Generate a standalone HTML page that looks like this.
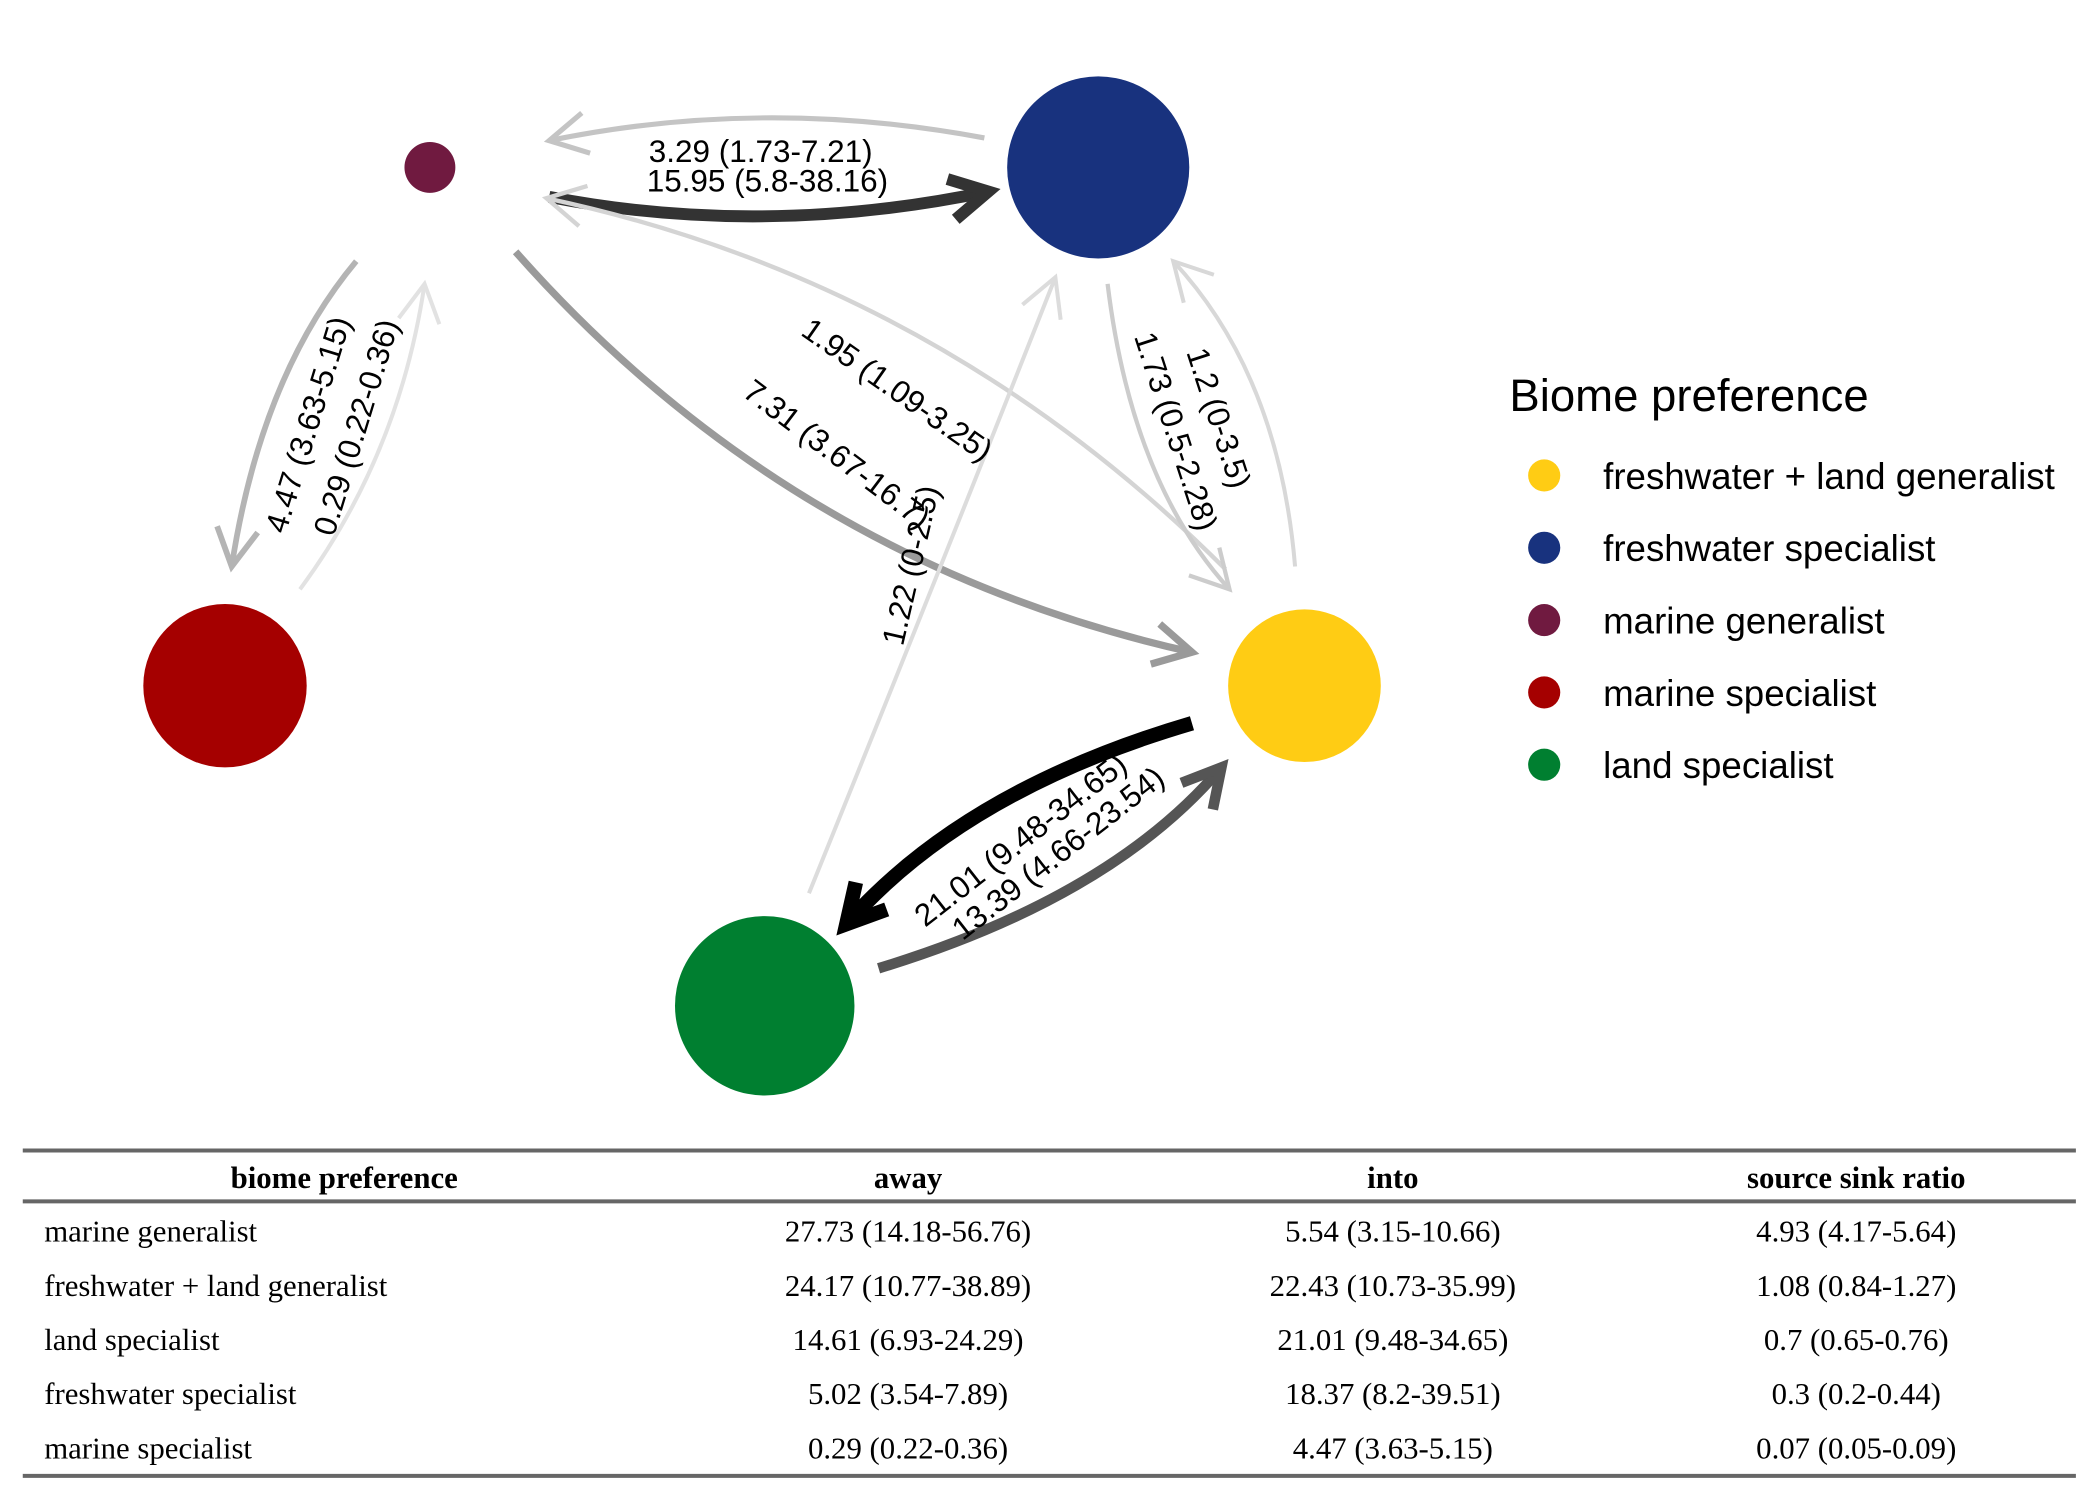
<!DOCTYPE html>
<html><head><meta charset="utf-8"><style>
html,body{margin:0;padding:0;background:#fff;}
svg{display:block;}
</style></head><body>
<svg id="chart" width="2100" height="1500" viewBox="0 0 1568 1120" preserveAspectRatio="none" xmlns="http://www.w3.org/2000/svg">
<g id="edges"></g>
<g id="nodes"></g>
<g id="labels" font-family="Liberation Sans, sans-serif" font-size="23.5" fill="#000"></g>
<g id="legend" font-family="Liberation Sans, sans-serif">
<text x="1127" y="307" font-size="34">Biome preference</text>
</g>
<g id="table" font-family="Liberation Serif, serif" font-size="23"></g>
</svg>
<script>
const NS='http://www.w3.org/2000/svg';
// nodes
const nodeNames=['marine generalist','freshwater specialist','marine specialist','freshwater + land generalist','land specialist'];
const nodeColors=['#701a40','#18327e','#a50000','#ffcc14','#007f30'];
const nodeX=[321,820,168,974,571];
const nodeY=[125,125,512,512,751];
const nodeR=[19,68,61,57,67];
// edges: start point, end point, control point, stroke
const edgeLabels=['3.29 (1.73-7.21)','15.95 (5.8-38.16)','1.95 (1.09-3.25)','7.31 (3.67-16.7)','4.47 (3.63-5.15)','0.29 (0.22-0.36)','1.22 (0-2.5)','1.73 (0.5-2.28)','1.2 (0-3.5)','21.01 (9.48-34.65)','13.39 (4.66-23.54)'];
const edgeValues=[3.29,15.95,1.95,7.31,4.47,0.29,1.22,1.73,1.2,21.01,13.39];
const edgeGeom=[
 [735,103,410,105,570,72],
 [410,147,738,143,570,178],
 [915,425,408,148,700,210],
 [385,188,890,487,590,420],
 [266,195,173,423,195,280],
 [224,440,317,212,298,340],
 [604,667,788,207,700,430],
 [827,212,918,440,845,360],
 [967,423,876,195,955,280],
 [890,540,632,690,720,590],
 [656,723,912,573,830,670]];
const edgeColors=['#c4c4c4','#333333','#d4d4d4','#9a9a9a','#b4b4b4','#e2e2e2','#dcdcdc','#cccccc','#d8d8d8','#000000','#555555'];
const labelPos=[[568,121,0],[573,143,0],[670,299,35],[625,347,37],[230,325,-73],[266,327,-73],[680,430,-77],[878,330,72],[910,320,72],[762,635,-38],[790,645,-38]];
function w(v){return 2.5+v*0.4;}
const eg=document.getElementById('edges');
edgeValues.forEach((v,i)=>{
 const [x0,y0,x1,y1,cx,cy]=edgeGeom[i];
 const sw=Math.max(3,Math.min(11,w(v)));
 const p=document.createElementNS(NS,'path');
 p.setAttribute('d',`M${x0},${y0} Q${cx},${cy} ${x1},${y1}`);
 p.setAttribute('fill','none');p.setAttribute('stroke',edgeColors[i]);p.setAttribute('stroke-width',sw);
 
 
 eg.appendChild(p);
 const a=Math.atan2(y1-cy,x1-cx),L=32,s=0.5;
 const h=document.createElementNS(NS,'path');
 h.setAttribute('d',`M${x1-L*Math.cos(a-s)},${y1-L*Math.sin(a-s)} L${x1},${y1} L${x1-L*Math.cos(a+s)},${y1-L*Math.sin(a+s)}`);
 h.setAttribute('fill','none');h.setAttribute('stroke',edgeColors[i]);h.setAttribute('stroke-width',sw);
 
 
 eg.appendChild(h);
});
const ng=document.getElementById('nodes');
nodeNames.forEach((n,i)=>{
 const c=document.createElementNS(NS,'circle');
 c.setAttribute('cx',nodeX[i]);c.setAttribute('cy',nodeY[i]);c.setAttribute('r',nodeR[i]);c.setAttribute('fill',nodeColors[i]);
 
 
 ng.appendChild(c);
});
const lg=document.getElementById('labels');
edgeLabels.forEach((t,i)=>{
 const [x,y,r]=labelPos[i];
 const e=document.createElementNS(NS,'text');
 e.setAttribute('x',x);e.setAttribute('y',y);e.setAttribute('text-anchor','middle');
 e.setAttribute('transform',`rotate(${r} ${x} ${y-8})`);
 e.textContent=t;
 
 
 lg.appendChild(e);
});
const legendOrder=[3,1,0,2,4];
const leg=document.getElementById('legend');
legendOrder.forEach((k,j)=>{
 const y=355+j*54;
 const c=document.createElementNS(NS,'circle');
 c.setAttribute('cx',1153);c.setAttribute('cy',y);c.setAttribute('r',12);c.setAttribute('fill',nodeColors[k]);
 
 
 leg.appendChild(c);
 const t=document.createElementNS(NS,'text');
 t.setAttribute('x',1197);t.setAttribute('y',y+10);t.setAttribute('font-size',27.4);t.textContent=nodeNames[k];
 
 
 leg.appendChild(t);
});
// table
const headers=['biome preference','away','into','source sink ratio'];
const rowNames=['marine generalist','freshwater + land generalist','land specialist','freshwater specialist','marine specialist'];
const awayVals=['27.73 (14.18-56.76)','24.17 (10.77-38.89)','14.61 (6.93-24.29)','5.02 (3.54-7.89)','0.29 (0.22-0.36)'];
const intoVals=['5.54 (3.15-10.66)','22.43 (10.73-35.99)','21.01 (9.48-34.65)','18.37 (8.2-39.51)','4.47 (3.63-5.15)'];
const ratioVals=['4.93 (4.17-5.64)','1.08 (0.84-1.27)','0.7 (0.65-0.76)','0.3 (0.2-0.44)','0.07 (0.05-0.09)'];
const tg=document.getElementById('table');
[[859,'table-top-rule'],[897,'table-header-rule'],[1102,'table-bottom-rule']].forEach(([y,n])=>{
 const l=document.createElementNS(NS,'line');
 l.setAttribute('x1',17);l.setAttribute('x2',1550);l.setAttribute('y1',y);l.setAttribute('y2',y);
 l.setAttribute('stroke','#666');l.setAttribute('stroke-width',3);
 
 
 tg.appendChild(l);
});
const colX=[257,678,1040,1386];
headers.forEach((h,i)=>{
 const t=document.createElementNS(NS,'text');
 t.setAttribute('x',colX[i]);t.setAttribute('y',887);t.setAttribute('text-anchor','middle');t.setAttribute('font-weight','bold');
 t.textContent=h;
 
 
 tg.appendChild(t);
});
rowNames.forEach((r,j)=>{
 const y=927+j*40.5;
 const cells=[r,awayVals[j],intoVals[j],ratioVals[j]];
 cells.forEach((c,i)=>{
  const t=document.createElementNS(NS,'text');
  t.setAttribute('x',i===0?33:colX[i]);t.setAttribute('y',y);
  if(i>0)t.setAttribute('text-anchor','middle');
  t.textContent=c;
  
  
  tg.appendChild(t);
 });
});
</script>
</body></html>
